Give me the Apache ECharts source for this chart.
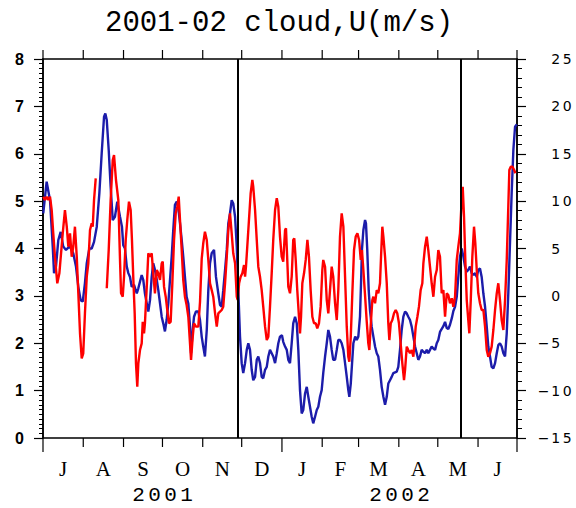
<!DOCTYPE html>
<html>
<head>
<meta charset="utf-8">
<script src="https://cdn.jsdelivr.net/npm/echarts@6/dist/echarts.min.js"></script>
<style>
  html, body { margin: 0; padding: 0; background: #fff; }
  #chart { width: 576px; height: 508px; }
</style>
</head>
<body>
<div id="chart"></div>
<script>
// Time is counted in days from 2001-07-01.
const titleText = '2001-02 cloud,U(m/s)';

// cloud amount (left axis), [day, value]
const cloudObs = [
  [0.2,4.74],[2.8,5.41],[5.4,5.02],[7.5,4.04],[8.5,3.48],[10.0,3.62],[11.8,4.18],[13.6,4.35],[15.6,4.04],[17.7,3.97],
  [20.3,4.04],[22.1,3.97],[23.3,3.90],[25.4,3.62],[27.2,3.19],[29.0,2.91],[30.6,2.88],[32.3,3.27],[33.7,3.69],[35.7,4.00],
  [37.5,4.00],[39.3,4.14],[41.4,4.46],[43.4,5.17],[45.2,6.01],[47.0,6.78],[48.0,6.85],[49.1,6.71],[50.6,6.08],[52.1,5.30],
  [53.7,4.60],[55.4,4.67],[57.2,4.99],[59.3,4.67],[60.8,4.46],[61.8,4.07],[63.1,4.00],[64.5,3.62],[65.7,3.48],[67.0,3.40],
  [68.3,3.19],[70.1,3.23],[72.2,3.05],[73.4,3.16],[74.7,3.30],[76.0,3.44],[77.2,3.34],[78.5,3.05],[79.9,2.84],[81.1,2.67],
  [82.4,2.91],[83.7,3.40],[84.9,3.69],[86.2,3.55],[87.6,3.34],[88.8,3.12],[90.1,2.84],[91.4,2.56],[92.6,2.42],[93.9,2.25],
  [95.2,2.49],[96.5,2.84],[97.8,3.34],[99.1,3.83],[100.3,4.39],[101.6,4.92],[103.0,4.99],[104.2,4.85],[105.5,4.53],[106.8,4.18],
  [108.0,3.83],[109.3,3.40],[110.6,2.98],[111.9,2.84],[113.2,2.35],[114.0,1.79],[115.3,2.28],[116.3,2.56],[117.8,2.67],[119.6,2.67],
  [120.9,2.49],[122.2,2.14],[123.4,1.93],[124.7,1.72],[126.1,2.28],[127.3,3.12],[128.6,3.69],[129.9,3.90],[131.7,3.97],[133.2,3.40],
  [135.0,3.05],[136.3,2.81],[137.6,2.77],[138.8,3.12],[140.2,3.55],[141.5,3.97],[142.7,4.53],[144.0,4.74],[145.3,5.02],[146.5,4.95],
  [147.9,4.67],[149.2,4.04],[150.4,3.12],[151.7,2.14],[153.0,1.58],[154.2,1.37],[155.6,1.58],[156.9,1.86],[158.1,2.00],[159.4,1.86],
  [160.7,1.44],[161.9,1.22],[163.3,1.29],[164.6,1.65],[165.8,1.72],[167.1,1.58],[168.4,1.29],[169.6,1.26],[171.0,1.44],[172.3,1.50],
  [173.5,1.72],[174.8,1.86],[176.1,1.79],[177.3,1.72],[178.7,1.58],[180.0,1.79],[181.2,2.00],[182.5,2.14],[184.0,2.17],[185.0,2.03],
  [186.4,1.93],[187.7,1.86],[188.9,1.65],[190.2,1.58],[191.5,2.00],[192.7,2.42],[194.1,2.56],[195.4,2.42],[196.6,1.86],[197.9,1.01],
  [199.2,0.52],[200.4,0.59],[201.8,0.94],[203.1,1.08],[204.3,0.87],[205.6,0.66],[206.9,0.45],[208.1,0.31],[209.5,0.45],[210.8,0.59],
  [212.0,0.66],[213.3,0.87],[214.6,1.01],[215.8,1.37],[217.2,1.72],[218.5,2.00],[219.7,2.28],[221.0,2.14],[222.3,1.86],[223.5,1.65],
  [224.9,1.65],[226.2,1.86],[227.4,2.07],[228.7,2.07],[230.0,2.00],[231.3,1.86],[232.6,1.58],[233.9,1.29],[235.1,1.01],[235.9,0.87],
  [237.0,1.15],[238.0,1.58],[239.0,2.00],[240.4,2.14],[241.6,2.07],[242.8,2.14],[244.1,2.56],[244.9,3.27],[245.6,3.97],[246.7,4.39],
  [248.0,4.60],[248.7,4.53],[249.7,3.97],[250.8,3.12],[251.8,2.70],[253.1,2.35],[254.4,2.14],[255.7,1.93],[257.0,1.79],[258.2,1.72],
  [259.5,1.44],[260.8,1.08],[262.1,0.87],[263.4,0.70],[264.7,0.87],[265.9,1.15],[267.2,1.22],[268.5,1.29],[269.8,1.37],[272.4,1.40],
  [273.6,1.50],[274.9,1.86],[276.2,2.28],[277.5,2.56],[278.8,2.67],[280.1,2.63],[281.3,2.56],[282.6,2.49],[283.9,2.35],[285.2,2.14],
  [286.5,1.93],[287.8,1.79],[289.0,1.65],[290.3,1.72],[291.6,1.86],[292.9,1.82],[294.2,1.79],[295.5,1.86],[296.7,1.79],[298.0,1.86],
  [299.3,1.93],[300.6,1.89],[301.9,1.86],[303.2,2.00],[304.4,2.07],[305.7,2.24],[308.3,2.36],[309.6,2.45],[310.9,2.32],[312.1,2.30],
  [313.4,2.39],[314.8,2.53],[316.0,2.68],[317.3,2.77],[318.6,2.98],[319.8,3.40],[321.1,3.83],[322.4,4.00],[323.7,3.83],[325.0,3.62],
  [326.3,3.51],[327.5,3.55],[328.8,3.62],[330.1,3.48],[331.4,3.44],[332.7,3.48],[334.0,3.40],[335.2,3.55],[336.5,3.58],[337.8,3.40],
  [339.1,3.05],[340.4,2.77],[341.7,2.35],[342.9,1.93],[344.2,1.72],[345.5,1.50],[346.8,1.47],[348.1,1.58],[349.4,1.79],[350.6,1.96],
  [351.9,2.00],[353.2,1.93],[354.5,1.79],[355.8,1.72],[357.1,2.21],[358.3,3.05],[359.6,4.11],[360.9,5.17],[362.2,6.08],[363.5,6.57],
  [364.8,6.62]
];

// zonal wind U in m/s (right axis), [day, value]; null marks missing days
const windObs = [
  [0.2,10.47],[1.5,10.12],[2.8,10.47],[4.1,10.12],[5.4,10.47],[6.7,9.06],[7.9,6.60],[9.2,4.13],[11.0,1.33],[12.6,2.38],
  [13.9,4.49],[15.2,6.60],[16.9,9.06],[18.3,7.30],[19.5,5.19],[20.8,6.60],[22.1,4.13],[23.3,5.19],[24.6,7.30],[26.0,4.13],
  [27.2,0.27],[28.5,-3.95],[29.8,-6.59],[31.0,-6.06],[32.3,-1.84],[33.7,2.02],[34.9,3.44],[36.2,6.95],[37.5,7.66],[38.3,7.30],
  [39.3,10.12],[40.6,12.41],[44.8,null],[49.1,0.80],[50.6,4.84],[52.1,10.12],[53.7,14.34],[54.7,14.87],[56.2,12.23],[58.0,10.12],
  [59.3,3.79],[60.1,0.27],[61.4,-0.09],[62.4,2.02],[63.7,5.90],[64.9,8.01],[66.2,9.94],[67.5,9.06],[68.5,5.90],[69.5,2.02],
  [70.6,-1.84],[71.6,-7.12],[72.6,-9.59],[73.4,-7.12],[74.7,-5.71],[76.0,-5.01],[76.8,-2.73],[77.8,-3.95],[78.5,-2.89],[79.9,0.97],
  [81.1,4.49],[82.4,4.13],[83.7,4.49],[84.9,2.38],[86.2,0.27],[87.6,2.73],[88.8,2.38],[90.1,1.68],[91.4,3.44],[92.2,3.61],
  [93.2,0.97],[94.5,-0.09],[95.7,-1.49],[97.0,-2.89],[98.3,-2.73],[99.6,1.33],[100.9,5.90],[102.2,8.71],[103.4,9.41],[104.5,10.47],
  [105.5,8.01],[106.8,4.84],[108.0,1.68],[109.3,-0.09],[110.6,-0.96],[111.9,-2.20],[113.2,-5.01],[114.0,-6.77],[115.3,-4.31],[116.3,-2.89],
  [117.8,-3.25],[119.6,-3.25],[120.9,-0.65],[122.2,3.90],[123.4,5.55],[124.7,6.77],[126.1,5.90],[127.3,3.79],[128.6,1.33],[129.9,0.61],
  [131.1,-0.09],[132.5,-1.84],[133.8,-3.25],[135.0,-1.84],[136.3,-1.67],[137.6,-1.49],[138.8,-1.14],[140.2,1.33],[141.5,4.13],[142.7,6.95],
  [144.0,8.71],[145.3,6.60],[146.5,4.49],[147.9,3.44],[149.2,-0.09],[149.9,-0.44],[151.0,1.33],[152.2,2.02],[153.5,2.38],[154.8,3.26],
  [155.6,2.02],[156.3,3.08],[157.3,5.19],[158.6,8.01],[159.9,10.82],[161.2,12.23],[161.9,11.52],[163.3,9.06],[164.6,5.90],[165.8,3.08],
  [167.1,2.02],[168.4,0.61],[169.6,-1.14],[171.0,-3.25],[172.3,-4.66],[173.5,-4.31],[174.8,-1.14],[176.1,2.38],[177.3,5.90],[178.7,9.06],
  [180.0,10.30],[181.2,9.41],[182.5,6.25],[183.8,4.13],[185.0,3.61],[186.4,6.95],[187.1,7.13],[188.1,3.79],[188.9,0.97],[190.2,0.27],
  [191.5,2.02],[192.7,5.90],[193.5,6.08],[194.6,3.79],[195.8,0.61],[197.1,-2.20],[197.9,-3.95],[198.7,-2.20],[199.7,1.33],[201.0,2.38],
  [202.3,3.79],[203.6,5.90],[204.8,4.13],[206.1,0.61],[207.4,-2.20],[208.7,-2.89],[210.0,-2.89],[211.2,-3.42],[212.5,-2.89],[213.8,-1.14],
  [215.1,2.73],[215.8,3.79],[217.2,3.08],[218.5,-0.44],[219.7,-1.84],[221.0,0.61],[222.3,3.08],[223.5,2.02],[224.9,-0.78],[226.2,-2.55],
  [227.4,0.61],[228.7,6.25],[230.0,8.71],[231.3,7.30],[232.6,2.02],[233.9,-3.25],[235.1,-6.42],[235.9,-6.95],[237.0,-4.31],[238.2,0.27],
  [239.5,4.84],[240.8,6.25],[242.1,6.60],[243.4,5.90],[244.7,3.79],[245.6,4.84],[246.7,2.73],[247.9,0.27],[249.2,-2.55],[250.5,-5.01],
  [251.3,-5.71],[252.3,-3.25],[253.6,-0.44],[254.4,-0.09],[255.7,-0.78],[257.0,0.61],[258.2,0.27],[259.5,1.33],[260.3,4.13],[261.3,7.30],
  [262.1,6.25],[263.4,4.13],[264.7,1.33],[265.9,-2.89],[266.7,-4.66],[267.8,-2.89],[269.0,-2.55],[270.3,-1.84],[271.6,-1.49],[272.8,-1.84],
  [274.1,-2.89],[275.4,-5.01],[276.7,-7.12],[278.0,-8.88],[278.8,-7.82],[280.1,-5.36],[281.3,-5.71],[282.6,-6.06],[283.9,-5.71],[285.2,-6.42],
  [286.0,-5.01],[287.0,-3.25],[288.3,-2.20],[289.5,-1.14],[290.8,0.61],[292.1,1.33],[292.9,3.44],[294.2,5.19],[295.5,6.25],[296.7,4.84],
  [298.0,3.08],[299.3,1.33],[300.6,-0.09],[301.9,2.02],[303.2,2.73],[304.4,4.84],[305.7,4.13],[307.0,0.27],[308.3,0.61],[309.6,-2.20],
  [310.9,0.27],[312.1,0.09],[313.4,-0.78],[314.8,-0.26],[316.0,-1.14],[317.3,-0.09],[318.6,3.79],[319.8,5.19],[321.1,6.60],[322.4,10.12],
  [323.2,11.52],[324.2,8.36],[325.2,3.79],[326.3,-0.44],[327.5,-2.55],[328.3,-3.95],[329.4,-0.44],[330.6,4.13],[331.9,7.30],[332.9,5.55],
  [334.0,2.73],[335.2,0.27],[336.5,-0.78],[337.8,-1.49],[339.1,-1.49],[340.4,-3.25],[341.7,-5.71],[342.9,-6.42],[344.2,-6.06],[345.5,-5.36],
  [346.8,-3.60],[348.1,-1.49],[349.4,0.27],[350.6,1.33],[351.9,-0.44],[353.2,-2.55],[354.5,-3.60],[355.8,-0.44],[357.1,3.79],[358.3,9.41],
  [359.1,13.28],[360.2,13.63],[361.5,13.63],[362.8,13.28],[363.8,12.94]
];

// calendar: first day of each month, Jul 2001 .. Jul 2002
const monthStarts = [0, 31, 62, 92, 123, 153, 184, 215, 243, 274, 304, 335, 365];
const monthLabels = ['J', 'A', 'S', 'O', 'N', 'D', 'J', 'F', 'M', 'A', 'M', 'J'];
const yearStarts = [0, 184, 365];
const yearLabels = ['2001', '2002'];
// reference dates marked with vertical lines
const markerDays = [150, 322];

const cloudRange = { min: 0, max: 8, step: 1, minorStep: 0.1 };
const windRange = { min: -15, max: 25, step: 5, minorStep: 1 };

const BLUE = '#1c1caa';
const RED = '#ff0000';

// spread a string into fixed-width rich-text cells
function cells(str, style) {
  return str.split('').map(function (c) { return '{' + style + '|' + c + '}'; }).join('');
}

const monthMids = monthLabels.map(function (m, i) {
  return [(monthStarts[i] + monthStarts[i + 1]) / 2, 0, m];
});
const yearMids = yearLabels.map(function (y, i) {
  return [(yearStarts[i] + yearStarts[i + 1]) / 2, 0, y];
});

// an unlabelled axis that only carries the fine tick marks
function minorAxis(range, side, len) {
  return {
    type: 'value', position: side,
    min: range.min, max: range.max, interval: range.minorStep,
    splitLine: { show: false },
    axisLine: { show: false },
    axisLabel: { show: false },
    axisTick: { show: true, length: len, lineStyle: { color: '#000', width: 1 } }
  };
}

const chart = echarts.init(document.getElementById('chart'), null, { renderer: 'svg' });

chart.setOption({
  animation: false,
  backgroundColor: '#fff',
  title: {
    text: titleText,
    left: 105,
    top: 9,
    padding: 0,
    textStyle: { fontSize: 29, fontWeight: 'normal', fontFamily: 'Liberation Mono', color: '#000' }
  },
  grid: {
    left: 43, right: 59, top: 59, bottom: 70,
    show: true, borderColor: '#000', borderWidth: 1.5,
    outerBoundsMode: 'none'
  },
  xAxis: {
    type: 'value', min: 0, max: 365, show: false
  },
  yAxis: [
    {
      type: 'value', position: 'left',
      min: cloudRange.min, max: cloudRange.max, interval: cloudRange.step,
      splitLine: { show: false },
      axisLine: { show: true, lineStyle: { color: '#000', width: 1.5 } },
      axisTick: { show: true, length: 9, lineStyle: { color: '#000', width: 1.2 } },
      axisLabel: {
        margin: 19, color: '#000', fontSize: 16, fontWeight: 'bold',
        fontFamily: 'Liberation Sans'
      }
    },
    {
      type: 'value', position: 'right',
      min: windRange.min, max: windRange.max, interval: windRange.step,
      splitLine: { show: false },
      axisLine: { show: true, lineStyle: { color: '#000', width: 1.5 } },
      axisTick: { show: true, length: 9, lineStyle: { color: '#000', width: 1.2 } },
      axisLabel: {
        margin: 20, align: 'left', color: '#000',
        formatter: function (v) {
          return (v < 0 ? '{m|\u2212}' : '{m| }') + cells(String(Math.abs(v)), 'd');
        },
        rich: {
          m: { width: 13, align: 'center', fontSize: 14, fontFamily: 'DejaVu Sans', color: '#000' },
          d: { width: 11.5, align: 'center', fontSize: 14, fontFamily: 'DejaVu Sans', color: '#000' }
        }
      }
    },
    minorAxis(cloudRange, 'left', 4),
    minorAxis(windRange, 'right', 5)
  ],
  series: [
    {
      name: 'cloud', type: 'line', yAxisIndex: 0,
      data: cloudObs, showSymbol: false, symbol: 'none',
      lineStyle: { color: BLUE, width: 2.4 }, z: 3
    },
    {
      name: 'U', type: 'line', yAxisIndex: 1,
      data: windObs, showSymbol: false, symbol: 'none', connectNulls: false,
      lineStyle: { color: RED, width: 2.4 }, z: 4
    },
    {
      name: 'markers', type: 'line', yAxisIndex: 0, data: [], z: 6,
      markLine: {
        silent: true, symbol: 'none', animation: false,
        label: { show: false },
        lineStyle: { color: '#000', width: 2, type: 'solid' },
        emphasis: { disabled: true },
        data: markerDays.map(function (d) { return { xAxis: d }; })
      }
    },
    {
      // month boundary ticks on the bottom and top edges
      name: 'monthTicks', type: 'custom', yAxisIndex: 0, silent: true, clip: false, z: 5,
      data: monthStarts.map(function (d) { return [d, 0]; }),
      renderItem: function (params, api) {
        const d = api.value(0);
        const lo = api.coord([d, cloudRange.min]);
        const hi = api.coord([d, cloudRange.max]);
        const len = yearStarts.indexOf(d) >= 0 ? 14 : 9;
        const st = { stroke: '#000', lineWidth: 1.2 };
        return {
          type: 'group',
          children: [
            { type: 'line', shape: { x1: lo[0], y1: lo[1], x2: lo[0], y2: lo[1] + len }, style: st },
            { type: 'line', shape: { x1: hi[0], y1: hi[1], x2: hi[0], y2: hi[1] - 9 }, style: st }
          ]
        };
      }
    },
    {
      // month initials centred in each month
      name: 'monthNames', type: 'custom', yAxisIndex: 0, silent: true, clip: false,
      data: monthMids,
      renderItem: function (params, api) {
        const p = api.coord([api.value(0), cloudRange.min]);
        return {
          type: 'text', x: p[0], y: p[1] + 31,
          style: {
            text: monthMids[params.dataIndex][2],
            font: '21px "Liberation Serif"', fill: '#000',
            align: 'center', verticalAlign: 'middle'
          }
        };
      }
    },
    {
      // year captions centred under each year's months
      name: 'yearNames', type: 'custom', yAxisIndex: 0, silent: true, clip: false,
      data: yearMids,
      renderItem: function (params, api) {
        const p = api.coord([api.value(0), cloudRange.min]);
        return {
          type: 'text', x: p[0], y: p[1] + 57,
          style: {
            text: cells(yearMids[params.dataIndex][2], 'y'),
            rich: { y: { width: 16, align: 'center', fontSize: 21, fontFamily: 'Liberation Mono', fill: '#000' } },
            fill: '#000', align: 'center', verticalAlign: 'middle'
          }
        };
      }
    }
  ]
});
</script>
</body>
</html>
